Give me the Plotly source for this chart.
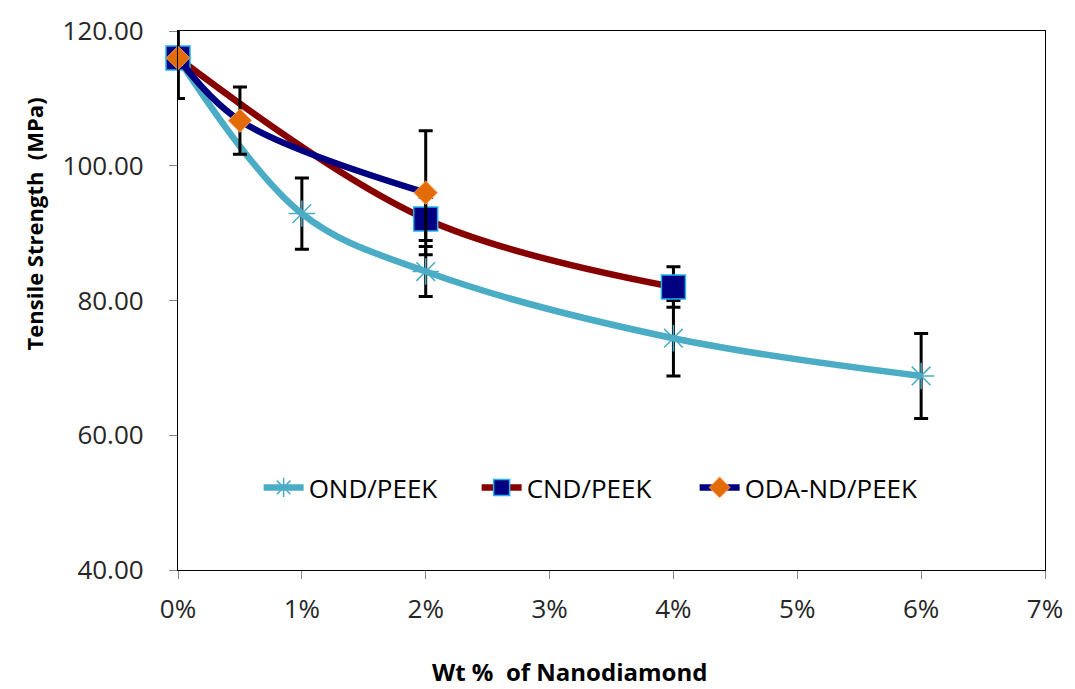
import plotly.graph_objects as go

# Nanodiamond loading (weight fraction) and tensile strength (MPa)
ond_x = [0.0, 0.01, 0.02, 0.04, 0.06]
ond_y = [116.0, 92.9, 84.3, 74.4, 68.8]
ond_err = [6.0, 5.3, 3.7, 5.6, 6.3]

cnd_x = [0.0, 0.02, 0.04]
cnd_y = [116.0, 92.1, 82.0]
cnd_err = [6.0, 3.2, 3.0]

oda_x = [0.0, 0.005, 0.02]
oda_y = [116.0, 106.7, 96.0]
oda_err = [6.0, 5.0, 9.2]

series_names = ["OND/PEEK", "CND/PEEK", "ODA-ND/PEEK"]
x_title = "Wt %  of Nanodiamond"
y_title = "Tensile Strength  (MPa)"

FONT = "Open Sans"

fig = go.Figure()

def add_series(x, y, err, name, line_color, marker, entry_w):
    # error bars in their own clipped trace
    fig.add_trace(go.Scatter(
        x=x, y=y, mode="markers",
        marker=dict(size=1, opacity=0),
        error_y=dict(type="data", array=err, visible=True,
                     color="black", thickness=3, width=7),
        cliponaxis=True, showlegend=False, hoverinfo="skip",
    ))
    fig.add_trace(go.Scatter(
        x=x, y=y, name=name, mode="lines+markers",
        line=dict(color=line_color, width=6.5, shape="spline", smoothing=1.0),
        marker=marker, cliponaxis=False, legendwidth=entry_w,
    ))

add_series(ond_x, ond_y, ond_err, series_names[0], "#4BACC6",
           dict(symbol="asterisk-open", size=22,
                line=dict(color="#9CC3D3", width=1.5)), 163)
add_series(cnd_x, cnd_y, cnd_err, series_names[1], "#870000",
           dict(symbol="square", size=24, color="#000080",
                line=dict(color="#22B4F0", width=1.5)), 163)
add_series(oda_x, oda_y, oda_err, series_names[2], "#000080",
           dict(symbol="diamond", size=18, color="#E36C09",
                line=dict(color="#F5A05A", width=1)), 260)

fig.update_layout(
    width=1075, height=689,
    margin=dict(l=178, r=27, t=28, b=119),
    paper_bgcolor="white", plot_bgcolor="white",
    font=dict(family=FONT, size=26, color="#262626"),
    legend=dict(
        orientation="h", x=0.093, y=0.153, xanchor="left", yanchor="middle",
        font=dict(family=FONT, size=26, color="#000000"),
        bgcolor="rgba(0,0,0,0)", itemwidth=40, tracegroupgap=0,
    ),
    showlegend=True,
    annotations=[
        dict(text="<b>" + x_title + "</b>", xref="paper", yref="paper",
             x=(571 - 178) / 870, y=-(672 - 570) / 542,
             xanchor="center", yanchor="middle", showarrow=False,
             font=dict(family=FONT, size=24, color="#000000")),
        dict(text="<b>" + y_title + "</b>", xref="paper", yref="paper",
             x=-(178 - 33) / 870, y=(570 - 222) / 542, textangle=-90,
             xanchor="center", yanchor="middle", showarrow=False,
             font=dict(family=FONT, size=22, color="#000000")),
    ],
)

fig.update_xaxes(
    range=[0, 0.07], dtick=0.01, tick0=0, tickformat=".0%",
    showgrid=False, zeroline=False,
    showline=True, linecolor="black", linewidth=1.2, mirror=True,
    ticks="outside", ticklen=8, tickcolor="#868686", tickwidth=1,
    ticklabelstandoff=8,
)
fig.update_yaxes(
    range=[40, 120], dtick=20, tick0=40, tickformat=".2f",
    showgrid=False, zeroline=False,
    showline=True, linecolor="black", linewidth=1.2, mirror=True,
    ticks="outside", ticklen=8, tickcolor="#868686", tickwidth=1,
    ticklabelstandoff=20,
)

fig.write_html("out.html")
